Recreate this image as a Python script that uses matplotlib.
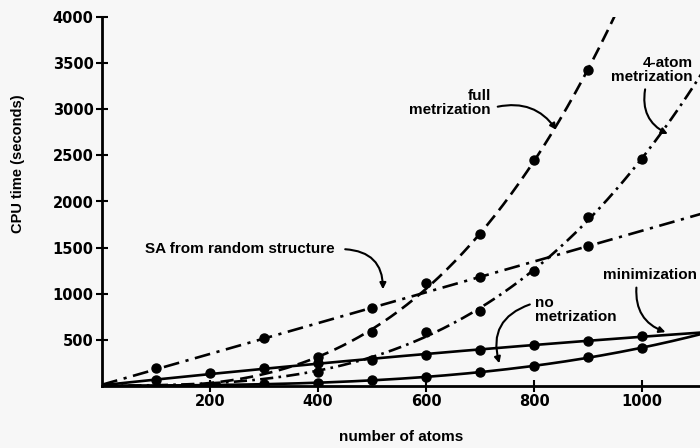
import numpy as np
import matplotlib
matplotlib.use("Agg")
import matplotlib.pyplot as plt

# number of atoms at which timings were taken
atomos = [100, 200, 300, 400, 500, 600, 700, 800, 900, 1000]

# CPU time (seconds) for each protocol
full_x = [400, 500, 600, 700, 800, 900]
full_y = [314, 585, 1120, 1650, 2450, 3430]
full_curva = [10, 40, 130, 314, 585, 1080, 1650, 2450, 3430]

quatro_x = [400, 600, 700, 800, 900, 1000]
quatro_y = [152, 585, 813, 1246, 1831, 2460]
quatro_curva = [5, 30, 90, 152, 300, 585, 813, 1246, 1831, 2460]

sa_x = [100, 300, 500, 700, 900]
sa_y = [195, 520, 845, 1181, 1517]

min_y = [65, 141, 200, 250, 285, 340, 390, 444, 488, 542]
nomet_y = [5, 15, 20, 33, 60, 97, 152, 217, 314, 412]

fundo = "#f7f7f7"
fig = plt.figure(figsize=(7, 4.48), dpi=100, facecolor=fundo)
ax = fig.add_axes([102 / 700, 62 / 448, 598 / 700, 369 / 448])
ax.set_facecolor(fundo)

xx = np.linspace(0, 1110, 300)


def curva(xs, ys, grau):
    # smooth curve from the origin through the measured points
    c = np.polyfit([0] + list(xs), [0] + list(ys), grau)
    return np.polyval(c, xx)


kw = dict(color="black", lw=1.9)
ax.plot(xx, curva(atomos[:9], full_curva, 3), linestyle=(0, (5, 2.5)), **kw)
ax.plot(xx, curva(atomos, quatro_curva, 3), linestyle=(0, (5, 2, 1, 2)), **kw)
ax.plot(xx, curva(sa_x, sa_y, 1), linestyle=(0, (6, 2.5, 1.2, 2.5)), **kw)
ax.plot(xx, curva(atomos, min_y, 2), linestyle="-", **kw)
ax.plot(xx, curva(atomos, nomet_y, 3), linestyle="-", **kw)

mk = dict(ls="none", marker="o", ms=6.5, color="black")
ax.plot(full_x, full_y, **mk)
ax.plot(quatro_x, quatro_y, **mk)
ax.plot(sa_x, sa_y, **mk)
ax.plot(atomos, min_y, **mk)
ax.plot(atomos[2:], nomet_y[2:], **mk)

ax.set_xlim(0, 1107)
ax.set_ylim(0, 4000)
ax.set_xticks([200, 400, 600, 800, 1000])
ax.set_yticks([500, 1000, 1500, 2000, 2500, 3000, 3500, 4000])
ax.tick_params(direction="inout", length=8, width=1.5, pad=2)
for lab in ax.get_xticklabels() + ax.get_yticklabels():
    lab.set_fontweight("bold")
    lab.set_fontsize(10.5)
for s in ["top", "right"]:
    ax.spines[s].set_visible(False)
for s in ["left", "bottom"]:
    ax.spines[s].set_linewidth(2)

fig.text(18 / 700, 1 - 164 / 448, "CPU time (seconds)", rotation=90,
         ha="center", va="center", fontsize=10.5, fontweight="bold",
         family="Liberation Sans")
fig.text(401 / 700, 1 - 437 / 448, "number of atoms", ha="center",
         va="center", fontsize=11, fontweight="bold", family="Liberation Sans")

txt = dict(fontsize=11, fontweight="bold", family="Liberation Sans",
           linespacing=0.95)
seta = dict(arrowstyle="-|>", color="black", lw=1.5, mutation_scale=9)

ax.annotate("SA from random structure", xy=(520, 1018), xytext=(80, 1484),
            ha="left", va="center", **txt,
            arrowprops=dict(seta, connectionstyle="arc3,rad=-0.5",
                            relpos=(1.04, 0.5)))
ax.annotate("full\nmetrization", xy=(844, 2752), xytext=(720, 3066),
            ha="right", va="center", **txt,
            arrowprops=dict(seta, connectionstyle="arc3,rad=-0.35",
                            relpos=(1.05, 0.35)))
ax.annotate("4-atom\nmetrization", xy=(1052, 2719), xytext=(1094, 3424),
            ha="right", va="center", **txt,
            arrowprops=dict(seta, connectionstyle="arc3,rad=0.4",
                            relpos=(0.42, -0.1)))
ax.annotate("no\nmetrization", xy=(737, 217), xytext=(802, 823),
            ha="left", va="center", **txt,
            arrowprops=dict(seta, connectionstyle="arc3,rad=0.5",
                            relpos=(-0.02, 0.75)))
ax.annotate("minimization", xy=(1048, 574), xytext=(927, 1203),
            ha="left", va="center", **txt,
            arrowprops=dict(seta, connectionstyle="arc3,rad=0.4",
                            relpos=(0.36, -0.2)))

fig.savefig("out.png", dpi=100, facecolor=fundo)
